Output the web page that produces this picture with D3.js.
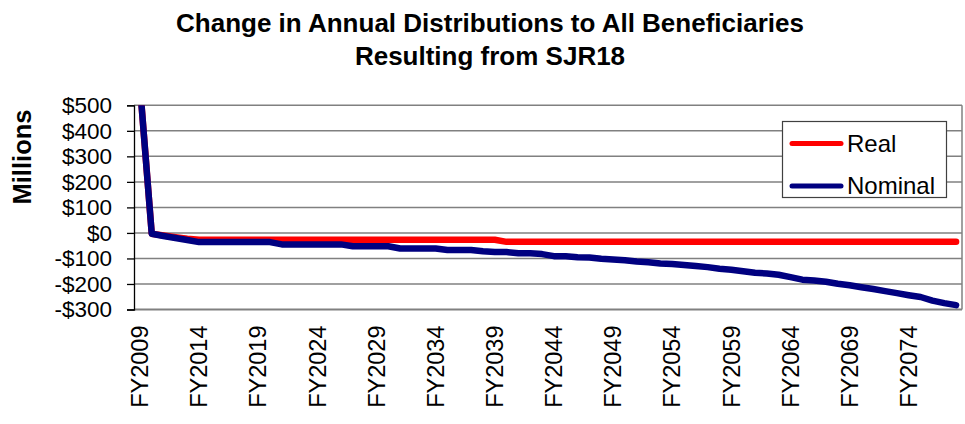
<!DOCTYPE html>
<html>
<head>
<meta charset="utf-8">
<script src="https://cdn.jsdelivr.net/npm/d3@7/dist/d3.min.js"></script>
<style>
  html, body { margin: 0; padding: 0; background: #fff; }
  svg { display: block; font-family: Arial, "Liberation Sans", sans-serif; }
</style>
</head>
<body>
<svg id="chart" width="965" height="424"></svg>
<script>
// Fiscal years FY2009 .. FY2078
const years = d3.range(2009, 2079).map(y => "FY" + y);

// Change in distributions, $ millions, real (constant) dollars
const realValues = [
  580, -3, -10, -17, -23, -27, -27, -27, -27, -27,
  -27, -27, -27, -27, -27, -27, -27, -27, -27, -27,
  -27, -27, -27, -27, -27, -27, -27, -27, -27, -27,
  -27, -35, -35, -35, -35, -35, -35, -35, -35, -35,
  -35, -35, -35, -35, -35, -35, -35, -35, -35, -35,
  -35, -35, -35, -35, -35, -35, -35, -35, -35, -35,
  -35, -35, -35, -35, -35, -35, -35, -35, -35, -35
];

// Change in distributions, $ millions, nominal dollars
const nominalValues = [
  580, -3, -12, -20, -28, -36, -36, -36, -36, -36,
  -36, -36, -45, -45, -45, -45, -45, -45, -52, -52,
  -52, -52, -61, -61, -61, -61, -67, -67, -67, -72,
  -75, -75, -80, -80, -83, -91, -91, -95, -96, -101,
  -104, -107, -112, -115, -120, -122, -126, -130, -134, -140,
  -144, -150, -156, -159, -164, -173, -183, -186, -191, -199,
  -205, -213, -220, -228, -236, -244, -251, -265, -275, -283
];

const yTicks = [500, 400, 300, 200, 100, 0, -100, -200, -300];
const xLabelYears = years.filter((d, i) => i % 5 === 0);

const seriesNames = ["Real", "Nominal"];
const seriesColors = ["#ff0000", "#000080"];

const svg = d3.select("#chart");

const plot = { left: 134, right: 962, top: 105.3, bottom: 309.5 };

const x = d3.scalePoint()
  .domain(years)
  .range([plot.left, plot.right])
  .padding(0.5);

const y = d3.scaleLinear()
  .domain([-300, 500])
  .range([plot.bottom, plot.top]);

const fmt = v => (v < 0 ? "-$" : "$") + Math.abs(v);

// Title
const title = svg.append("text")
  .attr("text-anchor", "middle")
  .attr("font-weight", "bold")
  .attr("font-size", 26)
  .attr("fill", "#000");
title.append("tspan").attr("x", 490).attr("y", 32)
  .text("Change in Annual Distributions to All Beneficiaries");
title.append("tspan").attr("x", 490).attr("y", 65)
  .text("Resulting from SJR18");

// Horizontal gridlines
svg.append("g")
  .selectAll("line")
  .data(yTicks)
  .join("line")
  .attr("x1", plot.left)
  .attr("x2", plot.right)
  .attr("y1", d => y(d))
  .attr("y2", d => y(d))
  .attr("stroke", "#808080")
  .attr("stroke-width", d => d === -300 ? 2 : 1.5);

// Right border of plot area
svg.append("line")
  .attr("x1", plot.right).attr("x2", plot.right)
  .attr("y1", plot.top).attr("y2", plot.bottom)
  .attr("stroke", "#808080").attr("stroke-width", 1.5);

// Y axis
const yAxis = d3.axisLeft(y)
  .tickValues(yTicks)
  .tickFormat(fmt)
  .tickSize(7)
  .tickPadding(15);

const gy = svg.append("g")
  .attr("transform", `translate(${plot.left},0)`)
  .call(yAxis);
gy.select(".domain").attr("stroke", "#000").attr("stroke-width", 1.3);
gy.selectAll(".tick line").attr("stroke", "#000").attr("stroke-width", 1.3);
gy.selectAll(".tick text")
  .attr("font-size", 22.5)
  .attr("font-family", "Arial, 'Liberation Sans', sans-serif")
  .attr("fill", "#000");

// Y axis title
svg.append("text")
  .attr("transform", "translate(31,157) rotate(-90)")
  .attr("text-anchor", "middle")
  .attr("font-weight", "bold")
  .attr("font-size", 25.5)
  .text("Millions");

// X axis labels
svg.append("g")
  .selectAll("text")
  .data(xLabelYears)
  .join("text")
  .attr("transform", d => `translate(${x(d)},${plot.bottom + 16}) rotate(-90)`)
  .attr("text-anchor", "end")
  .attr("dy", "0.35em")
  .attr("font-size", 23.5)
  .text(d => d);

// Clip series to the plot area
svg.append("clipPath").attr("id", "plot-clip")
  .append("rect")
  .attr("x", plot.left).attr("y", plot.top)
  .attr("width", plot.right - plot.left)
  .attr("height", plot.bottom - plot.top);

const line = d3.line()
  .x((d, i) => x(years[i]))
  .y(d => y(d));

const series = [realValues, nominalValues];
const lines = svg.append("g").attr("clip-path", "url(#plot-clip)");
series.forEach((vals, k) => {
  lines.append("path")
    .datum(vals)
    .attr("d", line)
    .attr("fill", "none")
    .attr("stroke", seriesColors[k])
    .attr("stroke-width", 6.5)
    .attr("stroke-linejoin", "round")
    .attr("stroke-linecap", "round");
});

// Legend
const legend = svg.append("g");
legend.append("rect")
  .attr("x", 782.5).attr("y", 121.5)
  .attr("width", 164).attr("height", 76)
  .attr("fill", "#fff")
  .attr("stroke", "#404040")
  .attr("stroke-width", 1.2);

const legendRows = legend.selectAll("g.row")
  .data(seriesNames)
  .join("g")
  .attr("class", "row")
  .attr("transform", (d, i) => `translate(0,${143.5 + i * 42.5})`);

legendRows.append("line")
  .attr("x1", 792).attr("x2", 841)
  .attr("stroke", (d, i) => seriesColors[i])
  .attr("stroke-width", 5)
  .attr("stroke-linecap", "round");

legendRows.append("text")
  .attr("x", 847)
  .attr("dy", "0.35em")
  .attr("font-size", 24)
  .text(d => d);
</script>
</body>
</html>
